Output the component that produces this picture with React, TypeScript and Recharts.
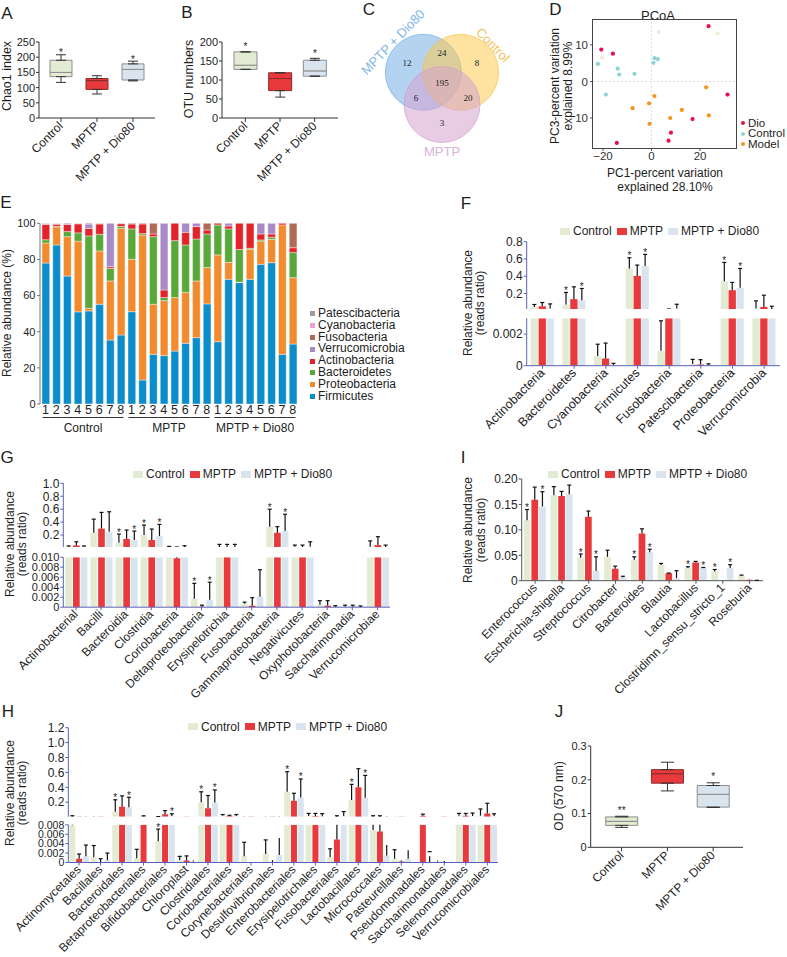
import React from "react";
import {
  BarChart,
  Bar,
  XAxis,
  YAxis,
  ErrorBar,
  LabelList,
  Cell,
  Legend,
  ScatterChart,
  Scatter,
  ReferenceLine,
} from "recharts";

const FONT = '"Liberation Sans", Arial, Helvetica, sans-serif';
const INK = "#1e1e1e";
const AXIS_BLUE = "#5a61b8";
const GROUPS = ["Control", "MPTP", "MPTP + Dio80"];
const GROUP_COLORS = ["#e3ecd2", "#e8393c", "#d9e4ef"];
const BOX_STROKES = ["#8d8d8d", "#8b2a2a", "#8d8d8d"];

// A: Chao1 index
const chaoMin = [117, 79, 122];
const chaoQ1 = [136, 94, 125];
const chaoMed = [150, 123, 160];
const chaoQ3 = [190, 130, 178];
const chaoMax = [208, 139, 187];
const chaoStars = ["*", "", "*"];

// B: OTU numbers
const otuMin = [128, 55, 110];
const otuQ1 = [128, 72, 110];
const otuMed = [139, 104, 124];
const otuQ3 = [174, 119, 152];
const otuMax = [174, 119, 157];
const otuStars = ["*", "", "*"];

// J: OD (570 nm)
const odMin = [0.059, 0.167, 0.118];
const odQ1 = [0.065, 0.19, 0.119];
const odMed = [0.077, 0.218, 0.157];
const odQ3 = [0.09, 0.23, 0.183];
const odMax = [0.092, 0.252, 0.191];
const odStars = ["**", "", "*"];

// C: Venn
const vennSets = ["MPTP + Dio80", "Control", "MPTP"];
const vennRegions = ["1", "2", "3", "12", "13", "23", "123"];
const vennCounts = [12, 8, 3, 24, 6, 20, 195];

// D: PCoA
const pcoaGroups = ["Dio", "Control", "Model"];
const dioX = [-20.7, -15.9, 23.5, 31.3, 16.9, 8.0, 7.0, -14.3];
const dioY = [8.7, 7.6, 15.1, -3.6, -10.3, -14.0, -16.2, -16.8];
const ctlX = [-22.1, -13.9, -13.3, -7.0, -18.8, 0.8, 1.2, 2.6];
const ctlY = [4.8, 3.5, 1.9, 2.1, -3.6, 5.1, 6.4, 6.1];
const modelX = [22.5, 1.2, -7.8, -1.0, 12.5, 7.7, 23.6, -0.8];
const modelY = [-1.6, -4.0, -7.3, -6.0, -7.8, -10.0, -9.3, -11.6];
const faintX = [2.9, 27.2, -20.4];
const faintY = [13.5, 13.1, 6.5];

// E: relative abundance (%) per sample
const eGroups = ["Control", "MPTP", "MPTP + Dio80"];
const eSamples = ["1", "2", "3", "4", "5", "6", "7", "8"];
const ePhyla = [
  "Firmicutes",
  "Proteobacteria",
  "Bacteroidetes",
  "Actinobacteria",
  "Verrucomicrobia",
  "Fusobacteria",
  "Cyanobacteria",
  "Patescibacteria",
];
const firmicutes = [78, 88, 70.8, 51, 51.5, 55.2, 35.4, 38.2, 51.1, 13.3, 27.5, 26.8, 29.3, 33.6, 36.7, 55.4, 34.5, 69, 67.2, 69, 77.3, 78.2, 27.5, 33.2];
const proteobacteria = [11.1, 10, 21.8, 39.1, 1.5, 29.5, 32.7, 59, 29, 80.2, 27.7, 30.4, 29.6, 28.2, 31.4, 20.1, 48, 9.4, 0.3, 16.6, 12.9, 12.9, 71.6, 36.7];
const bacteroidetes = [1.8, 0.3, 2.8, 4.6, 40, 9.2, 7, 1.1, 16.8, 0.8, 37.4, 1.7, 31.5, 26.2, 23.2, 18.6, 16.6, 18.5, 18, 0.6, 0.6, 1.2, 0, 13.9];
const actinobacteria = [8.5, 1.2, 4, 5, 4.2, 5.7, 0.9, 1.5, 2.7, 5.3, 1.5, 4.2, 9.6, 7, 6.9, 2.2, 0.9, 1.6, 14.5, 13.8, 3.3, 1.8, 0.9, 2.7];
const verrucomicrobia = [0.4, 0, 0.6, 0, 2.4, 0, 24, 0, 0, 0, 0, 36.9, 0, 5, 1.8, 0, 0, 1.5, 0, 0, 5.9, 5.9, 0, 0];
const fusobacteria = [0.2, 0.3, 0, 0.2, 0.4, 0.3, 0, 0.2, 0.4, 0.4, 5.9, 0, 0, 0, 0, 3.7, 0, 0, 0, 0, 0, 0, 0, 13.5];
const cyanobacteria = [0, 0.2, 0, 0, 0, 0, 0, 0, 0, 0, 0, 0, 0, 0, 0, 0, 0, 0, 0, 0, 0, 0, 0, 0];
const patescibacteria = [0, 0, 0, 0, 0, 0, 0, 0, 0, 0, 0, 0, 0, 0, 0, 0, 0, 0, 0, 0, 0, 0, 0, 0];
const eValues = [firmicutes, proteobacteria, bacteroidetes, actinobacteria, verrucomicrobia, fusobacteria, cyanobacteria, patescibacteria];
const PHYLA_COLORS = ["#0b8dcb", "#f28a2e", "#5aa83a", "#e3232a", "#a98ac6", "#b06b57", "#e9a3d0", "#9c9c9c"];

// F: phylum level
const fCats = ["Actinobacteria", "Bacteroidetes", "Cyanobacteria", "Firmicutes", "Fusobacteria", "Patescibacteria", "Proteobacteria", "Verrucomicrobia"];
const fCtl = [0.044, 0.072, 0.00062, 0.49, 0.00094, 0.0001, 0.343, 0.026];
const fCtlErr = [0.028, 0.14, 0.00074, 0.124, 0.0019, 0.0003, 0.217, 0.088];
const fCtlStar = ["", "*", "", "*", "", "", "*", ""];
const fMptp = [0.052, 0.134, 0.00045, 0.405, 0.012, 0.00008, 0.238, 0.044];
const fMptpErr = [0.043, 0.143, 0.00098, 0.124, 0.008, 0.0003, 0.09, 0.136];
const fMptpStar = ["", "", "", "", "", "", "", ""];
const fDio = [0.026, 0.122, 0.00005, 0.517, 0.025, 0.00002, 0.265, 0.017];
const fDioErr = [0.053, 0.136, 0.0001, 0.136, 0.05, 0.0001, 0.225, 0.035];
const fDioStar = ["", "*", "", "*", "", "", "*", ""];

// G: class level
const gCats = ["Actinobacterial", "Bacilli", "Bacteroidia", "Clostridia", "Coriobacteria", "Deltaproteobacteria", "Erysipelotrichia", "Fusobacteria", "Gammaproteobacteria", "Negativicutes", "Oxyphotobacteria", "Saccharimonadia", "Verrucomicrobiae"];
const gCtl = [0.02, 0.236, 0.08, 0.2, 0.015, 0.00168, 0.012, 0.0007, 0.33, 0.02, 0.0005, 0.0001, 0.02];
const gCtlErr = [0.012, 0.21, 0.135, 0.155, 0.01, 0.0031, 0.044, 0.0003, 0.27, 0.025, 0.0008, 0.0003, 0.09];
const gCtlStar = ["", "", "*", "*", "", "*", "", "", "*", "", "", "", ""];
const gMptp = [0.04, 0.3, 0.138, 0.123, 0.0098, 0.0001, 0.012, 0.0003, 0.236, 0.015, 0.0003, 0.0001, 0.045];
const gMptpErr = [0.056, 0.25, 0.14, 0.17, 0.006, 0.0003, 0.044, 0.0016, 0.094, 0.03, 0.001, 0.0003, 0.13];
const gMptpStar = ["", "", "", "", "", "", "", "", "", "", "", "", ""];
const gDio = [0.02, 0.25, 0.122, 0.185, 0.015, 0.0015, 0.01, 0.0021, 0.262, 0.02, 0.0001, 0.00005, 0.015];
const gDioErr = [0.012, 0.31, 0.14, 0.18, 0.02, 0.0035, 0.046, 0.0054, 0.26, 0.076, 0.0002, 0.0002, 0.03];
const gDioStar = ["", "", "*", "*", "", "*", "", "", "*", "", "", "", ""];

// H: order level
const hCats = ["Actinomycetales", "Bacillales", "Bacteroidales", "Betaproteobacteriales", "Bifidobacteriales", "Chloroplast", "Clostridiales", "Coriobacteriales", "Corynebacteriales", "Desulfovibrionales", "Enterobacteriales", "Erysipelotrichales", "Fusobacteriales", "Lactobacillales", "Micrococcales", "Pasteurellales", "Pseudomonadales", "Saccharimonadales", "Selenomonadales", "Verrucomicrobiales"];
const hCtl = [0.0079, 0.0011, 0.073, 0.0009, 0.0045, 0.0005, 0.2, 0.02, 0.0013, 0.0018, 0.34, 0.015, 0.0011, 0.23, 0.0069, 0.0008, 0, 0.0002, 0.02, 0.02];
const hCtlErr = [0.011, 0.0025, 0.16, 0.0019, 0.0026, 0.0008, 0.14, 0.015, 0.003, 0.003, 0.27, 0.035, 0.0018, 0.21, 0.012, 0.0019, 0, 0.0002, 0.03, 0.09];
const hCtlStar = ["", "", "*", "", "*", "", "*", "", "", "", "*", "", "", "*", "", "", "", "", "", ""];
const hMptp = [0.0008, 0.0001, 0.14, 0.01, 0.038, 0.0004, 0.12, 0.015, 0, 0.0001, 0.22, 0.015, 0.0049, 0.4, 0.0066, 0.0002, 0.02, 0.0001, 0.02, 0.05];
const hMptpErr = [0.001, 0.0007, 0.145, 0.008, 0.05, 0.001, 0.17, 0.01, 0, 0.0004, 0.1, 0.035, 0.014, 0.25, 0.012, 0.0002, 0.02, 0.0002, 0.03, 0.136];
const hMptpStar = ["", "", "", "", "", "", "", "", "", "", "", "", "", "", "", "", "", "", "", ""];
const hDio = [0.0013, 0.0005, 0.132, 0, 0.015, 0.0002, 0.195, 0.015, 0, 0.0016, 0.262, 0.012, 0.015, 0.26, 0.0015, 0.0008, 0.0001, 0, 0.015, 0.015];
const hDioErr = [0.0024, 0.0015, 0.135, 0, 0.03, 0.0002, 0.17, 0.02, 0, 0.0036, 0.25, 0.035, 0.06, 0.3, 0.0022, 0.0018, 0.0012, 0, 0.04, 0.03];
const hDioStar = ["", "", "*", "", "*", "", "*", "", "", "", "*", "", "", "*", "", "", "", "", "", ""];

// I: genus level
const iCats = ["Enterococcus", "Escherichia-shigella", "Streptococcus", "Citrobacter", "Bacteroides", "Blautia", "Lactobacillus", "Clostridimn_sensu_stricto_1", "Roseburia"];
const iCtl = [0.119, 0.168, 0.045, 0.047, 0.041, 0.031, 0.025, 0.018, 0.0098];
const iCtlErr = [0.021, 0.017, 0.0075, 0.013, 0.006, 0.003, 0.0025, 0.004, 0.0012];
const iCtlStar = ["*", "", "*", "", "*", "", "*", "*", ""];
const iMptp = [0.159, 0.1666, 0.126, 0.0236, 0.093, 0.0145, 0.036, 0, 0.002];
const iMptpErr = [0.025, 0.009, 0.011, 0.005, 0.009, 0.0005, 0.002, 0, 0.0003];
const iMptpStar = ["", "", "", "", "", "", "", "", ""];
const iDio = [0.146, 0.17, 0.019, 0.0067, 0.056, 0.005, 0.025, 0.025, 0.0005];
const iDioErr = [0.029, 0.018, 0.028, 0.002, 0.006, 0.0147, 0.001, 0.0065, 0.0002];
const iDioStar = ["*", "", "*", "", "*", "", "*", "*", ""];

const fmt = (d: number) => (v: number) => (v === 0 ? "0" : v.toFixed(d));

const Txt = ({ x, y, rot = 0, size = 12, color = INK, lh, children }: any) => (
  <div
    style={{
      position: "absolute",
      left: x,
      top: y,
      transform: `translate(-50%, -50%) rotate(${rot}deg)`,
      fontSize: size,
      color,
      whiteSpace: "nowrap",
      lineHeight: lh ? `${lh}px` : 1,
      textAlign: "center",
    }}
  >
    {children}
  </div>
);

const RotTick = (p: any) => {
  const { x, y, payload, fs } = p;
  return (
    <text x={x} y={y} dy={fs * 0.32} transform={`rotate(-45 ${x} ${y})`} textAnchor="end" fontSize={fs} fill={INK}>
      {payload.value}
    </text>
  );
};

const boxOf = (vb: any, p: any) => (vb && vb.height !== undefined ? vb : p);

// cap of the one-sided error bar plus significance mark, placed from the bar's own geometry
function barMarks(stars: string[], errs: number[], lo: number, hi: number) {
  return (p: any) => {
    const i = Number(p.index);
    const e = errs[i];
    if (!(e > 0)) return null;
    const b = boxOf(p.viewBox, p);
    const v = Number(p.value);
    const h = Number(b.height);
    if (v === lo || !h) return null;
    const k = h / (v - lo);
    if (!(k > 0)) return null;
    const top = v + e;
    if (top > hi || top < lo) return null;
    const cx = Number(b.x) + Number(b.width) / 2;
    const capY = Number(b.y) - e * k;
    const mark = v > lo ? stars[i] : "";
    return (
      <g>
        <line x1={cx - 2} x2={cx + 2} y1={capY} y2={capY} stroke="#111" strokeWidth={1.2} />
        {mark && (
          <text x={cx} y={capY + 1.5} textAnchor="middle" fontSize={10} fill={INK}>
            {mark}
          </text>
        )}
      </g>
    );
  };
}

function boxStar(stars: string[], upErr: number[], gap: number) {
  return (p: any) => {
    const i = Number(p.index);
    const mark = stars[i];
    if (!mark) return null;
    const b = boxOf(p.viewBox, p);
    const v = Number(p.value);
    const h = Number(b.height);
    if (!(v > 0) || !(h > 0)) return null;
    const capY = Number(b.y) - upErr[i] * (h / v);
    return (
      <text x={Number(b.x) + Number(b.width) / 2} y={capY - gap + 5.5} textAnchor="middle" fontSize={10} fill={INK}>
        {mark}
      </text>
    );
  };
}

const BarLegend = () => (
  <div style={{ display: "flex", alignItems: "center", fontSize: 12, color: INK, whiteSpace: "nowrap", lineHeight: "14px" }}>
    {GROUPS.map((g, i) => (
      <span key={g} style={{ display: "inline-flex", alignItems: "center", marginRight: 5 }}>
        <span style={{ display: "inline-block", width: 10, height: 7, background: GROUP_COLORS[i], marginRight: 3 }} />
        {g}
      </span>
    ))}
  </div>
);

function BoxPanel(props: any) {
  const { left, top, width, height, plotTop, plotBottom, plotRight, yW, pad, domain, ticks, digits, mins, q1s, meds, q3s, maxs, stars, boxSize, capW, starGap } = props;
  const rows = GROUPS.map((g, i) => ({
    name: g,
    base: q1s[i],
    lowBox: meds[i] - q1s[i],
    upBox: q3s[i] - meds[i],
    lowErr: [q1s[i] - mins[i], 0],
    upErr: [0, maxs[i] - q3s[i]],
  }));
  const upErr = GROUPS.map((g, i) => maxs[i] - q3s[i]);
  const cells = rows.map((r, i) => <Cell key={r.name} fill={GROUP_COLORS[i]} stroke={BOX_STROKES[i]} />);
  return (
    <div style={{ position: "absolute", left, top }}>
      <BarChart
        width={width}
        height={height}
        data={rows}
        margin={{ top: plotTop - top, right: width - (plotRight - left), left: 0, bottom: 0 }}
        barSize={boxSize}
      >
        <XAxis
          dataKey="name"
          interval={0}
          height={height - (plotBottom - top)}
          padding={pad}
          stroke="#333"
          tickSize={4}
          tickMargin={2}
          tick={(p: any) => <RotTick {...p} fs={12} />}
        />
        <YAxis
          width={yW}
          domain={domain}
          ticks={ticks}
          interval={0}
          allowDataOverflow
          stroke="#333"
          tickSize={3}
          tickMargin={1}
          tickFormatter={fmt(digits)}
          tick={{ fontSize: 11, fill: INK }}
        />
        <Bar dataKey="base" stackId="b" fill="transparent" stroke="none" isAnimationActive={false}>
          <ErrorBar dataKey="lowErr" width={capW} stroke="#333" strokeWidth={1} direction="y" />
        </Bar>
        <Bar dataKey="lowBox" stackId="b" isAnimationActive={false}>
          {cells}
        </Bar>
        <Bar dataKey="upBox" stackId="b" isAnimationActive={false}>
          {cells}
          <ErrorBar dataKey="upErr" width={capW} stroke="#333" strokeWidth={1} direction="y" />
          <LabelList dataKey="upBox" content={boxStar(stars, upErr, starGap)} />
        </Bar>
      </BarChart>
    </div>
  );
}

// rows for a bar chart; with a ceiling the bars and error bars are cut at the axis break
function makeRows(cats: string[], series: any[], ceil = Infinity) {
  return cats.map((c, i) => {
    const r: any = { name: c };
    series.forEach((s) => {
      const v = s.vals[i];
      const e = Math.min(s.errs[i], ceil - v);
      r[s.key] = Math.min(v, ceil);
      r[s.key + "E"] = e > 0 ? [0, e] : null;
    });
    return r;
  });
}

function groupBars(series: any[], lo: number, hi: number) {
  return series.map((s, si) => (
    <Bar key={s.key} dataKey={s.key} fill={GROUP_COLORS[si]} isAnimationActive={false}>
      <ErrorBar dataKey={s.key + "E"} width={0} stroke="#111" strokeWidth={1.2} direction="y" />
      <LabelList dataKey={s.key} content={barMarks(s.stars, s.errs, lo, hi)} />
    </Bar>
  ));
}

function BrokenBars(props: any) {
  const {
    cats, series, left, width, yW, plotRight, upTop, upPlotTop, upPlotBottom, upDomain, upTicks, upDigits,
    loTop, loPlotTop, loPlotBottom, loDomain, loTicks, loDigits, xAxisH, barSize, barGap, catFont, legendX, legendY, loTickFont = 12,
  } = props;
  const upRows = makeRows(cats, series);
  const loRows = makeRows(cats, series, loDomain[1]);
  const mr = width - (plotRight - left);
  const axis = { stroke: AXIS_BLUE };
  return (
    <>
      <div style={{ position: "absolute", left, top: upTop }}>
        <BarChart width={width} height={upPlotBottom - upTop} data={upRows} margin={{ top: upPlotTop - upTop, right: mr, left: 0, bottom: 0 }} barSize={barSize} barGap={barGap}>
          <XAxis dataKey="name" hide />
          <YAxis width={yW} domain={upDomain} ticks={upTicks} interval={0} allowDataOverflow axisLine={axis} tickLine={axis} tickSize={3} tickMargin={1} tickFormatter={fmt(upDigits)} tick={{ fontSize: 12, fill: INK }} />
          <Legend content={BarLegend} layout="horizontal" verticalAlign="middle" align="center" wrapperStyle={{ left: legendX - left, top: legendY - upTop - 7, width: "auto" }} />
          {groupBars(series, upDomain[0], upDomain[1])}
        </BarChart>
      </div>
      <div style={{ position: "absolute", left, top: loTop }}>
        <BarChart width={width} height={loPlotBottom - loTop + xAxisH} data={loRows} margin={{ top: loPlotTop - loTop, right: mr, left: 0, bottom: 0 }} barSize={barSize} barGap={barGap}>
          <XAxis dataKey="name" interval={0} height={xAxisH} axisLine={axis} tickLine={axis} tickSize={3} tickMargin={2} tick={(p: any) => <RotTick {...p} fs={catFont} />} />
          <YAxis width={yW} domain={loDomain} ticks={loTicks} interval={0} allowDataOverflow axisLine={axis} tickLine={axis} tickSize={3} tickMargin={1} tickFormatter={fmt(loDigits)} tick={{ fontSize: loTickFont, fill: INK }} />
          {groupBars(series, loDomain[0], loDomain[1])}
        </BarChart>
      </div>
    </>
  );
}

// ---- Venn layout ----
const VENN_W = 200;
const VENN_H = 166;
const VENN_PX = 21.5;
const VENN_ANGLES = [150, 30, 270];
const VENN_R = 38 / VENN_PX;
const VENN_FILLS = ["#75afe6", "#fbca52", "#d5a2ce"];
const VENN_STROKES = ["#6fa8e0", "#f5c04a", "#cf9fcb"];
const unit = (a: number) => [Math.cos((a * Math.PI) / 180), Math.sin((a * Math.PI) / 180)];
const vennCircleRows = vennSets.map((s, i) => {
  const [ux, uy] = unit(VENN_ANGLES[i]);
  return { x: ux, y: uy, i, name: s };
});
const vennCountRows = vennRegions.map((r, k) => {
  const members = r.split("").map((c) => Number(c) - 1);
  let x = 0;
  let y = 0;
  if (members.length === 1) {
    const [ux, uy] = unit(VENN_ANGLES[members[0]]);
    x = ux * 1.88;
    y = uy * 1.88;
  } else if (members.length === 2) {
    const out = [0, 1, 2].find((m) => !members.includes(m)) as number;
    const [ux, uy] = unit(VENN_ANGLES[out]);
    x = -ux * 1.39;
    y = -uy * 1.39;
  }
  return { x, y, count: vennCounts[k] };
});

function Venn() {
  const xHalf = VENN_W / 2 / VENN_PX;
  const yHalf = VENN_H / 2 / VENN_PX;
  return (
    <div style={{ position: "absolute", left: 342, top: 0 }}>
      <ScatterChart width={VENN_W} height={VENN_H} margin={{ top: 0, right: 0, bottom: 0, left: 0 }}>
        <XAxis type="number" dataKey="x" domain={[-xHalf, xHalf]} hide />
        <YAxis type="number" dataKey="y" domain={[-yHalf, yHalf]} hide />
        <Scatter
          data={vennCircleRows}
          isAnimationActive={false}
          shape={(p: any) => (
            <circle cx={p.cx} cy={p.cy} r={VENN_R * VENN_PX} fill={VENN_FILLS[p.payload.i]} fillOpacity={0.55} stroke={VENN_STROKES[p.payload.i]} strokeOpacity={0.85} strokeWidth={0.8} />
          )}
        />
        <Scatter
          data={vennCountRows}
          isAnimationActive={false}
          shape={(p: any) => (
            <text x={p.cx} y={p.cy} dy={3} textAnchor="middle" fontSize={9} fill="#222" fontFamily='"Liberation Serif", "DejaVu Serif", serif'>
              {p.payload.count}
            </text>
          )}
        />
      </ScatterChart>
    </div>
  );
}

// ---- PCoA ----
const PCOA_COLORS = ["#e8114a", "#8fd3d6", "#f7941d"];
const pcoaSeries = [
  dioX.map((x, i) => ({ x, y: dioY[i] })),
  ctlX.map((x, i) => ({ x, y: ctlY[i] })),
  modelX.map((x, i) => ({ x, y: modelY[i] })),
];
const faintRows = faintX.map((x, i) => ({ x, y: faintY[i] }));
const PX_DOM: [number, number] = [-24.1, 34.8];
const PY_DOM: [number, number] = [-18.2, 16.8];

const PcoaLegend = () => (
  <div style={{ fontSize: 11.5, lineHeight: "10.8px", color: INK, whiteSpace: "nowrap" }}>
    {pcoaGroups.map((g, i) => (
      <div key={g} style={{ display: "flex", alignItems: "center" }}>
        <span style={{ display: "inline-block", width: 4, height: 4, borderRadius: 2, background: PCOA_COLORS[i], marginRight: 3 }} />
        {g}
      </div>
    ))}
  </div>
);

function Pcoa() {
  const tickLine = { stroke: "#555" };
  return (
    <div style={{ position: "absolute", left: 540, top: 0, width: 247, height: 200 }}>
      <ScatterChart width={247} height={200} margin={{ top: 20, right: 51, left: 0, bottom: 32 }}>
        <XAxis type="number" dataKey="x" domain={PX_DOM} ticks={[-20, 0, 20]} interval={0} allowDataOverflow height={20} axisLine={false} tickLine={tickLine} tickSize={3} tickMargin={1}
          tickFormatter={(v: number) => (v < 0 ? `\u2212${-v}` : String(v))} tick={{ fontSize: 11.5, fill: "#333" }} />
        <YAxis type="number" dataKey="y" domain={PY_DOM} ticks={[-10, 0, 10]} interval={0} allowDataOverflow width={53} axisLine={false} tickLine={tickLine} tickSize={3} tickMargin={2}
          tickFormatter={(v: number) => String(Math.abs(v))} tick={{ fontSize: 11.5, fill: "#333" }} />
        <ReferenceLine x={0} stroke="#dedede" strokeDasharray="2 2" />
        <ReferenceLine y={0} stroke="#dedede" strokeDasharray="2 2" />
        <Scatter data={faintRows} legendType="none" isAnimationActive={false} shape={(p: any) => <circle cx={p.cx} cy={p.cy} r={2} fill="#efe9d7" />} />
        {pcoaSeries.map((rows, i) => (
          <Scatter key={pcoaGroups[i]} name={pcoaGroups[i]} data={rows} isAnimationActive={false} shape={(p: any) => <circle cx={p.cx} cy={p.cy} r={2.1} fill={PCOA_COLORS[i]} />} />
        ))}
        <Legend content={PcoaLegend} layout="vertical" verticalAlign="middle" align="center" wrapperStyle={{ left: 201, top: 117.5, width: "auto" }} />
      </ScatterChart>
      {/* panel border of the PCoA plot area */}
      <div style={{ position: "absolute", left: 52, top: 19, width: 145, height: 130, border: "1.6px solid #444", boxSizing: "border-box", pointerEvents: "none", zIndex: 2 }} />
    </div>
  );
}

// ---- E stacked bars ----
const E_W = 400;
const E_YW = 40;
const E_MR = 102;
const eCount = eGroups.length * eSamples.length;
const E_BAND = (E_W - E_YW - E_MR) / eCount;
const eRows = Array.from({ length: eCount }, (_, i) => {
  const r: any = { n: eSamples[i % eSamples.length] };
  ePhyla.forEach((ph, k) => {
    r[ph] = eValues[k][i];
  });
  return r;
});

const ETick = (p: any) => {
  const { x, y, payload } = p;
  const idx = typeof p.index === "number" ? p.index : payload.index;
  const per = eSamples.length;
  const pos = idx % per;
  const half = E_BAND / 2;
  const x1 = x - half + (pos === 0 ? 2.5 : 0);
  const x2 = x + half - (pos === per - 1 ? 2.5 : 0);
  return (
    <g>
      <text x={x} y={y + 10} textAnchor="middle" fontSize={12.5} fill={INK}>
        {payload.value}
      </text>
      <line x1={x1} x2={x2} y1={y + 13.5} y2={y + 13.5} stroke="#333" strokeWidth={1} />
      {pos === per / 2 - 1 && (
        <text x={x + half} y={y + 27.5} textAnchor="middle" fontSize={12} fill={INK}>
          {eGroups[Math.floor(idx / per)]}
        </text>
      )}
    </g>
  );
};

const ELegend = () => (
  <div style={{ fontSize: 12, lineHeight: "11.8px", color: INK, whiteSpace: "nowrap" }}>
    {ePhyla
      .map((ph, i) => ({ ph, i }))
      .reverse()
      .map(({ ph, i }) => (
        <div key={ph} style={{ display: "flex", alignItems: "center" }}>
          <span style={{ display: "inline-block", width: 5, height: 5, background: PHYLA_COLORS[i], marginRight: 3 }} />
          {ph}
        </div>
      ))}
  </div>
);

function Stacked() {
  return (
    <div style={{ position: "absolute", left: 0, top: 210 }}>
      <BarChart width={E_W} height={232} data={eRows} margin={{ top: 13.3, right: E_MR, left: 0, bottom: 0 }} barSize={7.7}>
        <XAxis dataKey="n" interval={0} height={38} axisLine={false} tickLine={false} tickSize={0} tickMargin={0} tick={ETick} />
        <YAxis width={E_YW} domain={[0, 100]} ticks={[0, 20, 40, 60, 80, 100]} interval={0} stroke="#777" tickSize={3} tickMargin={1.5} tick={{ fontSize: 11, fill: INK }} />
        <Legend content={ELegend} layout="vertical" verticalAlign="middle" align="center" wrapperStyle={{ left: 310, top: 98, width: "auto" }} />
        {ePhyla.map((ph, k) => (
          <Bar key={ph} dataKey={ph} stackId="s" fill={PHYLA_COLORS[k]} stroke="#ffffff" strokeWidth={0.4} isAnimationActive={false} />
        ))}
      </BarChart>
    </div>
  );
}

function GenusBars() {
  const series = [
    { key: "ctl", vals: iCtl, errs: iCtlErr, stars: iCtlStar },
    { key: "mptp", vals: iMptp, errs: iMptpErr, stars: iMptpStar },
    { key: "dio", vals: iDio, errs: iDioErr, stars: iDioStar },
  ];
  const rows = makeRows(iCats, series);
  const axis = { stroke: "#555" };
  return (
    <div style={{ position: "absolute", left: 455, top: 465 }}>
      <BarChart width={320} height={243} data={rows} margin={{ top: 14, right: 12, left: 0, bottom: 0 }} barSize={6.7} barGap={1}>
        <XAxis dataKey="name" interval={0} height={127.3} axisLine={axis} tickLine={axis} tickSize={3} tickMargin={2} tick={(p: any) => <RotTick {...p} fs={12} />} />
        <YAxis width={66.7} domain={[0, 0.2]} ticks={[0, 0.05, 0.1, 0.15, 0.2]} interval={0} allowDataOverflow axisLine={axis} tickLine={axis} tickSize={3} tickMargin={1} tickFormatter={fmt(2)} tick={{ fontSize: 12, fill: INK }} />
        <Legend content={BarLegend} layout="horizontal" verticalAlign="middle" align="center" wrapperStyle={{ left: 93, top: 2, width: "auto" }} />
        {groupBars(series, 0, 0.2)}
      </BarChart>
    </div>
  );
}

export default function App() {
  const fSeries = [
    { key: "ctl", vals: fCtl, errs: fCtlErr, stars: fCtlStar },
    { key: "mptp", vals: fMptp, errs: fMptpErr, stars: fMptpStar },
    { key: "dio", vals: fDio, errs: fDioErr, stars: fDioStar },
  ];
  const gSeries = [
    { key: "ctl", vals: gCtl, errs: gCtlErr, stars: gCtlStar },
    { key: "mptp", vals: gMptp, errs: gMptpErr, stars: gMptpStar },
    { key: "dio", vals: gDio, errs: gDioErr, stars: gDioStar },
  ];
  const hSeries = [
    { key: "ctl", vals: hCtl, errs: hCtlErr, stars: hCtlStar },
    { key: "mptp", vals: hMptp, errs: hMptpErr, stars: hMptpStar },
    { key: "dio", vals: hDio, errs: hDioErr, stars: hDioStar },
  ];
  return (
    <div style={{ position: "absolute", left: 0, top: 0, width: 787, height: 957, background: "#fff", fontFamily: FONT, color: INK, overflow: "hidden" }}>
      {/* panel letters */}
      <Txt x={7} y={12.5} size={17}>A</Txt>
      <Txt x={187} y={11.5} size={17}>B</Txt>
      <Txt x={369} y={8.5} size={17}>C</Txt>
      <Txt x={555.5} y={8.5} size={17}>D</Txt>
      <Txt x={6} y={202} size={17}>E</Txt>
      <Txt x={466} y={203} size={17}>F</Txt>
      <Txt x={7} y={457} size={17}>G</Txt>
      <Txt x={463} y={457} size={17}>I</Txt>
      <Txt x={8} y={711} size={17}>H</Txt>
      <Txt x={559} y={711} size={17}>J</Txt>

      {/* A */}
      <BoxPanel left={0} top={30} width={165} height={160} plotTop={42} plotBottom={118} plotRight={155} yW={39} pad={{ left: 4, right: 4 }}
        domain={[0, 250]} ticks={[0, 50, 100, 150, 200, 250]} digits={0}
        mins={chaoMin} q1s={chaoQ1} meds={chaoMed} q3s={chaoQ3} maxs={chaoMax} stars={chaoStars} boxSize={22} capW={5} starGap={4} />
      <Txt x={7} y={76} rot={-90} size={12.5}>Chao1 index</Txt>

      {/* B */}
      <BoxPanel left={183} top={30} width={165} height={160} plotTop={42} plotBottom={118} plotRight={338} yW={39} pad={{ left: 6, right: 6 }}
        domain={[0, 200]} ticks={[0, 50, 100, 150, 200]} digits={0}
        mins={otuMin} q1s={otuQ1} meds={otuMed} q3s={otuQ3} maxs={otuMax} stars={otuStars} boxSize={23} capW={5} starGap={7} />
      <Txt x={189} y={79} rot={-90} size={12.5}>OTU numbers</Txt>

      {/* C */}
      <Venn />
      <Txt x={393} y={42} rot={-46} size={13} color="#7fb6e8">{vennSets[0]}</Txt>
      <Txt x={493} y={45} rot={46} size={13} color="#f5c35c">{vennSets[1]}</Txt>
      <Txt x={442} y={151} size={13} color="#d9b3d9">{vennSets[2]}</Txt>

      {/* D */}
      <Pcoa />
      <Txt x={658} y={15} size={13}>PCoA</Txt>
      <Txt x={561} y={86} rot={-90} size={12} lh={12.5}>PC3-percent variation<br />explained 8.99%</Txt>
      <Txt x={665} y={180} size={12} lh={13.5}>PC1-percent variation<br />explained 28.10%</Txt>

      {/* E */}
      <Stacked />
      <Txt x={7} y={313} rot={-90} size={12}>Relative abundance (%)</Txt>

      {/* F */}
      <BrokenBars cats={fCats} series={fSeries} left={460} width={325} yW={66.7} plotRight={780}
        upTop={222} upPlotTop={241.7} upPlotBottom={309} upDomain={[0.02, 0.8]} upTicks={[0.2, 0.4, 0.6, 0.8]} upDigits={1}
        loTop={312} loPlotTop={318.3} loPlotBottom={365.7} loDomain={[0, 0.003]} loTicks={[0, 0.002]} loDigits={3}
        xAxisH={76} barSize={7.3} barGap={0.6} catFont={12.5} legendX={560} legendY={231} />
      <Txt x={474} y={302.5} rot={-90} size={12} lh={12}>Relative abundance<br />(reads ratio)</Txt>

      {/* G */}
      <BrokenBars cats={gCats} series={gSeries} left={0} width={395} yW={63.3} plotRight={390}
        upTop={465} upPlotTop={483.3} upPlotBottom={547.3} upDomain={[0.011, 1.0]} upTicks={[0.2, 0.4, 0.6, 0.8, 1.0]} upDigits={1}
        loTop={549.5} loPlotTop={556.7} loPlotBottom={606.7} loDomain={[0, 0.01]} loTicks={[0, 0.002, 0.004, 0.006, 0.008, 0.01]} loDigits={3}
        xAxisH={97} barSize={6.7} barGap={1} catFont={12} legendX={133} legendY={474} loTickFont={11} />
      <Txt x={16} y={544} rot={-90} size={12} lh={12}>Relative abundance<br />(reads ratio)</Txt>

      {/* I */}
      <GenusBars />
      <Txt x={473.5} y={530} rot={-90} size={12} lh={12.5}>Relative abundance<br />(reads ratio)</Txt>

      {/* H */}
      <BrokenBars cats={hCats} series={hSeries} left={0} width={505} yW={68.3} plotRight={498}
        upTop={712} upPlotTop={727.7} upPlotBottom={816.7} upDomain={[0.006, 1.2]} upTicks={[0.2, 0.4, 0.6, 0.8, 1.0, 1.2]} upDigits={1}
        loTop={817.5} loPlotTop={824.3} loPlotBottom={862} loDomain={[0, 0.008]} loTicks={[0, 0.002, 0.004, 0.006, 0.008]} loDigits={3}
        xAxisH={95} barSize={6} barGap={0.8} catFont={12} legendX={188} legendY={726.7} loTickFont={10.5} />
      <Txt x={16} y={793} rot={-90} size={12} lh={12}>Relative abundance<br />(reads ratio)</Txt>

      {/* J */}
      <BoxPanel left={550} top={730} width={200} height={190} plotTop={746} plotBottom={847.3} plotRight={743} yW={40.7} pad={{ left: 8, right: 7 }}
        domain={[0, 0.3]} ticks={[0, 0.1, 0.2, 0.3]} digits={1}
        mins={odMin} q1s={odQ1} meds={odMed} q3s={odQ3} maxs={odMax} stars={odStars} boxSize={32} capW={6.5} starGap={8} />
      <Txt x={559} y={796} rot={-90} size={12}>OD (570 nm)</Txt>
    </div>
  );
}
